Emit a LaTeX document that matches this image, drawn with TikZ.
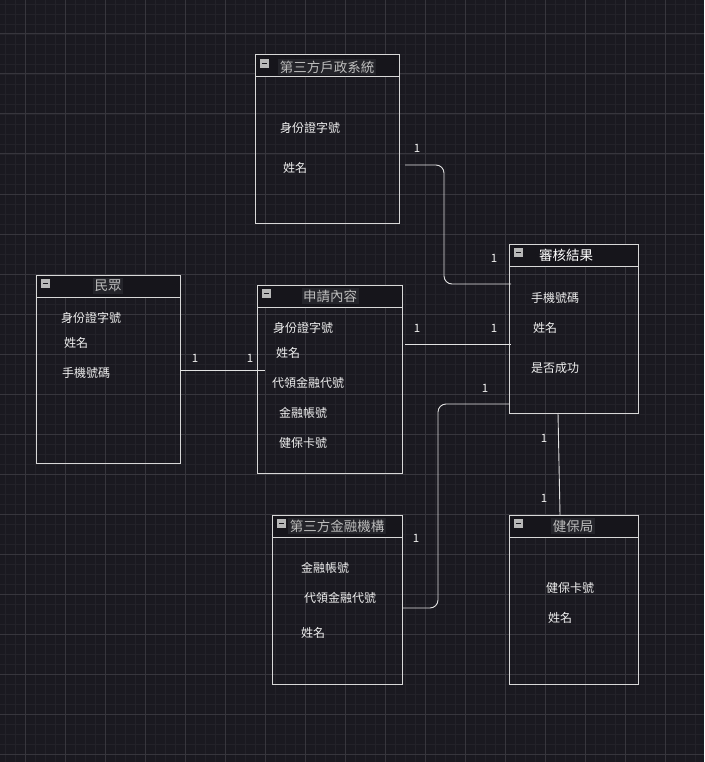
\documentclass[tikz,border=0pt]{standalone}
\usepackage{fontspec}
\newfontfamily\cjk{Noto Sans CJK TC}
\definecolor{bgc}{HTML}{1A1920}
\definecolor{minorc}{HTML}{232229}
\definecolor{majorc}{HTML}{37363D}
\definecolor{boxc}{HTML}{D8D8D8}
\definecolor{headc}{HTML}{16151B}
\definecolor{titlebg}{HTML}{24242A}
\definecolor{titlec}{HTML}{BDBDBD}
\definecolor{itemc}{HTML}{F0F0F0}
\definecolor{connc}{HTML}{E2E2E2}
\tikzset{
  tbl/.style={draw=boxc, line width=1pt, inner sep=0pt, outer sep=0pt, anchor=north west},
  ttl/.style={font=\cjk\fontsize{13.5}{15}\selectfont, text=titlec, fill=titlebg, inner sep=1.5pt},
  item/.style={font=\cjk\fontsize{12}{13}\selectfont, text=itemc, anchor=west, inner sep=0pt},
  card/.style={font=\cjk\fontsize{11.5}{12}\selectfont, text=itemc, inner sep=0pt},
  conn/.style={draw=connc, line width=0.9pt, rounded corners=8pt},
}
% draws the header strip, divider and collapse icon of a table node
\newcommand{\tblhead}[1]{%
  \fill[headc] ([shift={(0.5pt,-0.5pt)}]#1.north west) rectangle ([shift={(-0.5pt,-22pt)}]#1.north east);
  \draw[boxc, line width=1pt] ([yshift=-22pt]#1.north west) -- ([yshift=-22pt]#1.north east);
  \fill[boxc!85!black] ([shift={(5pt,-4pt)}]#1.north west) rectangle ++(9pt,-9pt);
  \draw[headc, line width=1.4pt] ([shift={(6.8pt,-8.5pt)}]#1.north west) -- ++(5.4pt,0);
}
\begin{document}
\begin{tikzpicture}[x=1pt,y=-1pt]
\useasboundingbox (0,0) rectangle (704,762);
\fill[bgc] (0,0) rectangle (704,762);
% background grid
\foreach \gx in {5,15,...,704} \draw[minorc, line width=0.8pt] (\gx,0) -- (\gx,762);
\foreach \gy in {4,14,...,762} \draw[minorc, line width=0.8pt] (0,\gy) -- (704,\gy);
\foreach \gx in {25,65,...,704} \draw[majorc, line width=1pt] (\gx,0) -- (\gx,762);
\foreach \gy in {34,74,...,762} \draw[majorc, line width=1pt] (0,\gy) -- (704,\gy);

% tables
\node[tbl, minimum width=144pt, minimum height=168pt] (hu) at (255,55) {};
\tblhead{hu}
\node[ttl] (hu-t) at (327,67) {第三方戶政系統};
\node[item] (hu-1) at (280,128) {身份證字號};
\node[item] (hu-2) at (283,168) {姓名};

\node[tbl, minimum width=144pt, minimum height=188pt] (mz) at (36,275) {};
\tblhead{mz}
\node[ttl] (mz-t) at (108,286) {民眾};
\node[item] (mz-1) at (61,318) {身份證字號};
\node[item] (mz-2) at (64,343) {姓名};
\node[item] (mz-3) at (62,373) {手機號碼};

\node[tbl, minimum width=145pt, minimum height=188pt] (sq) at (257,285) {};
\tblhead{sq}
\node[ttl] (sq-t) at (330,296) {申請內容};
\node[item] (sq-1) at (273,328) {身份證字號};
\node[item] (sq-2) at (276,353) {姓名};
\node[item] (sq-3) at (272,383) {代領金融代號};
\node[item] (sq-4) at (279,413) {金融帳號};
\node[item] (sq-5) at (279,443) {健保卡號};

\node[tbl, minimum width=129pt, minimum height=169pt] (sh) at (509,244) {};
\tblhead{sh}
\node[ttl, text=white, fill=none] (sh-t) at (566,255) {審核結果};
\node[item] (sh-1) at (531,298) {手機號碼};
\node[item] (sh-2) at (533,328) {姓名};
\node[item] (sh-3) at (531,368) {是否成功};

\node[tbl, minimum width=130pt, minimum height=169pt] (jr) at (272,515) {};
\tblhead{jr}
\node[ttl] (jr-t) at (337,526) {第三方金融機構};
\node[item] (jr-1) at (301,568) {金融帳號};
\node[item] (jr-2) at (304,598) {代領金融代號};
\node[item] (jr-3) at (301,633) {姓名};

\node[tbl, minimum width=129pt, minimum height=169pt] (jb) at (509,515) {};
\tblhead{jb}
\node[ttl] (jb-t) at (573,526) {健保局};
\node[item] (jb-1) at (546,588) {健保卡號};
\node[item] (jb-2) at (548,618) {姓名};

% connector end points
\coordinate (c1a) at (405,165);
\coordinate (c1b) at (511,284);
\coordinate (c2a) at (180,370);
\coordinate (c2b) at (265,370);
\coordinate (c3a) at (405,344);
\coordinate (c3b) at (511,344);
\coordinate (c4a) at (402,608);
\coordinate (c4b) at (509,404);
\coordinate (c5a) at (558,413);
\coordinate (c5b) at (560,515);

% relationships
\draw[conn] (c1a) -- (444,165) -- (444,284) -- (c1b);
\draw[conn] (c2a) -- (c2b);
\draw[conn] (c3a) -- (c3b);
\draw[conn] (c4a) -- (438,608) -- (438,404) -- (c4b);
\draw[conn] (c5a) -- (c5b);

% cardinalities
\node[card] (k1a) at (417,148) {1};
\node[card] (k1b) at (494,258) {1};
\node[card] (k2a) at (195,358) {1};
\node[card] (k2b) at (250,358) {1};
\node[card] (k3a) at (417,328) {1};
\node[card] (k3b) at (494,328) {1};
\node[card] (k4a) at (416,538) {1};
\node[card] (k4b) at (485,388) {1};
\node[card] (k5a) at (544,438) {1};
\node[card] (k5b) at (544,498) {1};
\end{tikzpicture}
\end{document}
